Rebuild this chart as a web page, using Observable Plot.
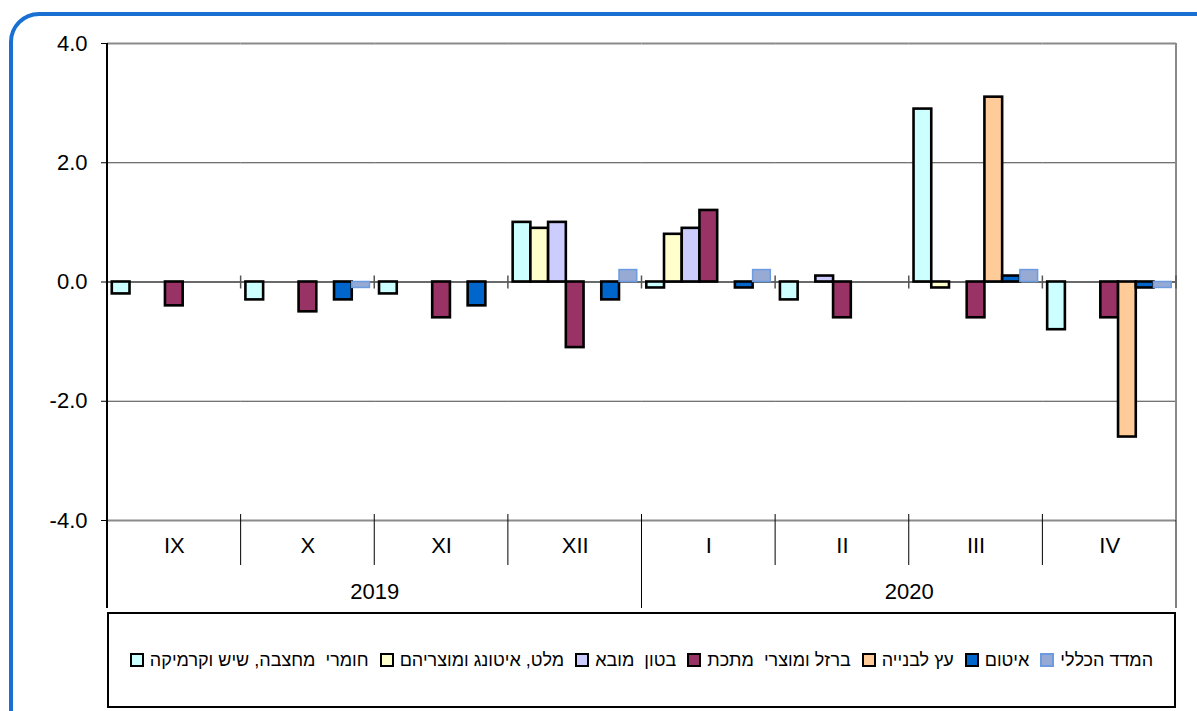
<!DOCTYPE html>
<html>
<head>
<meta charset="utf-8">
<script src="https://cdn.jsdelivr.net/npm/d3@7"></script>
<script src="https://cdn.jsdelivr.net/npm/@observablehq/plot@0.6"></script>
<style>
  html, body { margin: 0; padding: 0; background: #fff; overflow: hidden; width: 1197px; height: 711px; }
  #frame { position: absolute; left: 9px; top: 12px; width: 1240px; height: 760px; border: 4px solid #1a6fd2; border-radius: 30px; box-sizing: border-box; }
  #chart { position: absolute; left: 0; top: 0; }
  #legend { position: absolute; left: 107px; top: 612px; width: 1069px; height: 96px; border: 2px solid #000; box-sizing: border-box; background: #fff;
            display: flex; align-items: center; justify-content: center; gap: 11px; font-family: "Liberation Sans", Arial, sans-serif; font-size: 18px; color: #000; }
  .item { display: flex; align-items: center; gap: 6px; }
  .sw { width: 10px; height: 10px; border: 2px solid #000; }
  .txt { direction: rtl; unicode-bidi: isolate; white-space: pre; }
</style>
</head>
<body>
<div id="frame"></div>
<div id="chart"></div>
<div id="legend"></div>
<script>
// ---- data ----
const months = ["IX", "X", "XI", "XII", "I", "II", "III", "IV"];
const monthYears = ["2019", "2019", "2019", "2019", "2020", "2020", "2020", "2020"];
const years = ["2019", "2020"];
const seriesNames = [
  "חומרי  מחצבה, שיש וקרמיקה",
  "מלט, איטונג ומוצריהם",
  "בטון  מובא",
  "ברזל ומוצרי  מתכת",
  "עץ לבנייה",
  "איטום",
  "המדד הכללי"
];
const seriesColors = ["#ccffff", "#ffffcc", "#ccccff", "#993366", "#ffcc99", "#0066cc", "#97aad4"];
const quarry     = [-0.2, -0.3, -0.2, 1.0, -0.1, -0.3, 2.9, -0.8];
const cement     = [0, 0, 0, 0.9, 0.8, 0, -0.1, 0];
const concrete   = [0, 0, 0, 1.0, 0.9, 0.1, 0, 0];
const iron       = [-0.4, -0.5, -0.6, -1.1, 1.2, -0.6, -0.6, -0.6];
const wood       = [0, 0, 0, 0, 0, 0, 3.1, -2.6];
const insulation = [0, -0.3, -0.4, -0.3, -0.1, 0, 0.1, -0.1];
const general    = [0, -0.1, 0, 0.2, 0.2, 0, 0.2, -0.1];
const yTicks = [-4, -2, 0, 2, 4];

const seriesValues = [quarry, cement, concrete, iron, wood, insulation, general];
const rows = [];
seriesValues.forEach((vals, si) => vals.forEach((v, mi) => {
  if (v !== 0) rows.push({month: months[mi], series: seriesNames[si], value: v});
}));
const generalName = seriesNames[6];

// year label placement: boundary at the middle of each year's months
const yearLabels = years.map(y => {
  const ms = months.filter((m, i) => monthYears[i] === y);
  return {year: y, month: ms[ms.length / 2 - 1]};
});

const W = 1197, H = 612;
const plot = Plot.plot({
  width: W, height: H,
  marginLeft: 107, marginRight: 21, marginTop: 43, marginBottom: 92,
  style: {fontFamily: "'Liberation Sans', Arial, sans-serif", fontSize: "22px", color: "#000", background: "transparent", overflow: "visible"},
  fx: {domain: months, padding: 0, axis: null, round: false},
  x: {domain: seriesNames, paddingInner: 0, paddingOuter: 0.27, axis: null, round: false},
  y: {domain: [-4, 4], axis: null},
  color: {domain: seriesNames, range: seriesColors},
  marks: [
    Plot.ruleY([2, -2], {stroke: "#444", strokeWidth: 1.2}),
    Plot.ruleY([4, -4], {stroke: "#8a8a8a", strokeWidth: 2}),
    Plot.ruleY([0], {stroke: "#6a6a6a", strokeWidth: 2}),
    Plot.barY(rows.filter(d => d.series !== generalName), {fx: "month", x: "series", y: "value", fill: "series", stroke: "#000", strokeWidth: 2.6}),
    Plot.barY(rows.filter(d => d.series === generalName), {fx: "month", x: "series", y: "value", fill: "series", stroke: "#6d9be0", strokeWidth: 1.5}),
    Plot.axisY({ticks: yTicks, tickFormat: d => d.toFixed(1), tickSize: 6, tickPadding: 14, fontSize: 22, stroke: "#000", label: null}),
    Plot.text(months, {fx: d => d, text: d => d, frameAnchor: "bottom", dy: 32, fontSize: 22}),
    Plot.text(yearLabels, {fx: "month", text: "year", frameAnchor: "bottom-right", textAnchor: "middle", dy: 78, fontSize: 22})
  ]
});
document.getElementById("chart").appendChild(plot);

// ---- decorations from the plot's own scales ----
const fx = plot.scale("fx");
const ys = plot.scale("y");
const bw = fx.bandwidth;
const svg = d3.select(plot);
const g = svg.append("g");
const yTop = ys.apply(4), yBot = ys.apply(-4), y0 = ys.apply(0);
const leftX = fx.apply(months[0]);
const rightX = fx.apply(months[months.length - 1]) + bw;
const monthRowBottom = yBot + 45, yearRowBottom = yBot + 88;
// y axis line
g.append("line").attr("x1", leftX).attr("x2", leftX).attr("y1", yTop).attr("y2", yearRowBottom).attr("stroke", "#000").attr("stroke-width", 2);
// right border of plot area
g.append("line").attr("x1", rightX).attr("x2", rightX).attr("y1", yTop).attr("y2", yBot).attr("stroke", "#8a8a8a").attr("stroke-width", 2);
g.append("line").attr("x1", rightX).attr("x2", rightX).attr("y1", yBot).attr("y2", yearRowBottom).attr("stroke", "#000").attr("stroke-width", 1);
// month separators and zero-line ticks
months.forEach((m, i) => {
  const x = fx.apply(m);
  if (i > 0) {
    const yearBoundary = monthYears[i] !== monthYears[i - 1];
    g.append("line").attr("x1", x).attr("x2", x).attr("y1", yBot - 6).attr("y2", yearBoundary ? yearRowBottom : monthRowBottom).attr("stroke", "#000").attr("stroke-width", 1);
  }
  const xr = x + bw;
  g.append("line").attr("x1", xr).attr("x2", xr).attr("y1", y0 - 6).attr("y2", y0 + 7).attr("stroke", "#555").attr("stroke-width", 1.5);
});

// ---- legend ----
const legend = document.getElementById("legend");
seriesNames.forEach((name, i) => {
  const item = document.createElement("div");
  item.className = "item";
  const sw = document.createElement("div");
  sw.className = "sw";
  sw.style.background = seriesColors[i];
  if (name === generalName) sw.style.borderColor = "#6d9be0";
  const t = document.createElement("span");
  t.className = "txt";
  t.textContent = name;
  item.appendChild(sw);
  item.appendChild(t);
  legend.appendChild(item);
});
</script>
</body>
</html>
